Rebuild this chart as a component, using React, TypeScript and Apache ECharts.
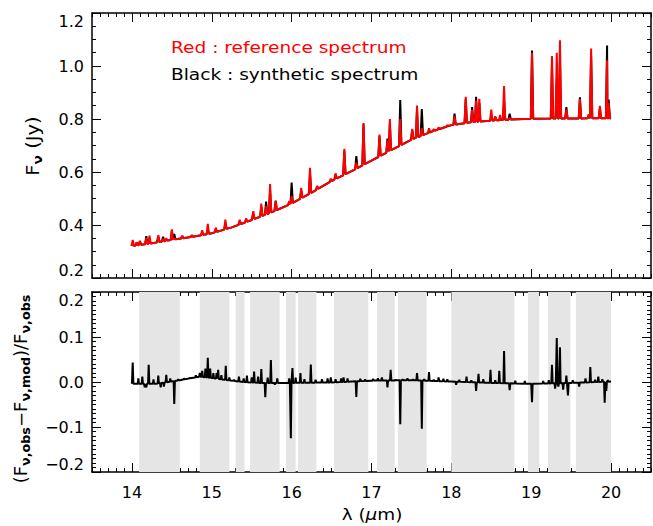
import React, { useEffect, useRef } from "react";
import * as echarts from "echarts";

// ---------- data ----------
const X_MIN = 13.5;
const X_MAX = 20.5;
const xMajorTicks = [14, 15, 16, 17, 18, 19, 20];

// continuum of the spectrum (Jy)
const contWl = [14.0, 14.25, 14.5, 14.75, 15.0, 15.25, 15.5, 15.75, 16.0, 16.25, 16.5, 16.75, 17.0, 17.25, 17.5, 17.75, 18.0, 18.25, 18.5, 18.75, 19.0, 19.5, 20.0];
const contFlux = [0.321, 0.331, 0.344, 0.355, 0.369, 0.391, 0.419, 0.448, 0.481, 0.522, 0.566, 0.603, 0.643, 0.683, 0.722, 0.752, 0.777, 0.788, 0.794, 0.798, 0.801, 0.802, 0.803];

// emission lines: wavelength, reference (red) peak, synthetic (black) peak
const lineWl = [14.01, 14.06, 14.10, 14.18, 14.22, 14.33, 14.39, 14.43, 14.50, 14.53, 14.63, 14.75, 14.88, 14.95, 15.05, 15.17, 15.35, 15.43, 15.52, 15.62, 15.68, 15.73, 15.80, 15.97, 16.00, 16.12, 16.23, 16.32, 16.49, 16.55, 16.66, 16.81, 16.90, 17.10, 17.20, 17.23, 17.36, 17.51, 17.57, 17.63, 17.72, 17.78, 17.84, 17.95, 18.04, 18.18, 18.26, 18.31, 18.35, 18.50, 18.55, 18.61, 18.66, 18.73, 19.01, 19.26, 19.32, 19.36, 19.44, 19.61, 19.72, 19.75, 19.86, 19.95, 19.97];
const redPeak = [0.344, 0.335, 0.340, 0.350, 0.360, 0.362, 0.348, 0.350, 0.384, 0.350, 0.360, 0.362, 0.380, 0.404, 0.390, 0.420, 0.420, 0.425, 0.452, 0.481, 0.470, 0.555, 0.490, 0.490, 0.510, 0.540, 0.616, 0.548, 0.575, 0.595, 0.688, 0.635, 0.785, 0.741, 0.718, 0.800, 0.800, 0.763, 0.851, 0.765, 0.765, 0.762, 0.768, 0.777, 0.810, 0.884, 0.835, 0.870, 0.876, 0.835, 0.810, 0.815, 0.924, 0.805, 1.050, 1.038, 1.050, 1.097, 0.835, 0.875, 0.818, 1.066, 0.850, 1.022, 0.860];
const blackPeak = [0.331, 0.333, 0.338, 0.358, 0.348, 0.357, 0.356, 0.345, 0.378, 0.366, 0.358, 0.360, 0.372, 0.383, 0.383, 0.406, 0.415, 0.419, 0.442, 0.468, 0.488, 0.530, 0.492, 0.487, 0.560, 0.530, 0.595, 0.545, 0.570, 0.590, 0.680, 0.660, 0.780, 0.735, 0.726, 0.780, 0.872, 0.758, 0.835, 0.838, 0.750, 0.758, 0.762, 0.772, 0.820, 0.874, 0.845, 0.884, 0.860, 0.812, 0.806, 0.800, 0.865, 0.820, 1.058, 1.000, 0.950, 1.020, 0.845, 0.882, 0.812, 1.040, 0.840, 1.077, 0.873];

// residual baseline and spikes
const resWl = [14.0, 14.3, 14.6, 14.85, 15.0, 15.2, 15.4, 15.6, 16.0, 16.5, 17.0, 17.5, 18.0, 18.5, 19.0, 19.5, 20.0];
const resBase = [-0.004, -0.004, 0.004, 0.012, 0.009, 0.004, 0.0, -0.002, -0.002, -0.001, 0.003, 0.004, 0.001, -0.002, -0.004, -0.002, 0.001];
const spikeWl = [14.01, 14.08, 14.13, 14.16, 14.18, 14.21, 14.27, 14.33, 14.36, 14.40, 14.43, 14.48, 14.53, 14.58, 14.65, 14.72, 14.80, 14.85, 14.88, 14.92, 14.95, 14.98, 15.02, 15.06, 15.08, 15.12, 15.175, 15.22, 15.28, 15.34, 15.40, 15.44, 15.50, 15.53, 15.58, 15.62, 15.67, 15.70, 15.74, 15.79, 15.82, 15.97, 15.99, 16.01, 16.05, 16.11, 16.16, 16.24, 16.30, 16.38, 16.45, 16.49, 16.55, 16.62, 16.65, 16.70, 16.81, 16.86, 16.92, 17.02, 17.08, 17.13, 17.20, 17.24, 17.30, 17.36, 17.39, 17.45, 17.52, 17.57, 17.63, 17.66, 17.72, 17.78, 17.84, 17.90, 17.95, 18.06, 18.10, 18.19, 18.25, 18.31, 18.34, 18.40, 18.49, 18.55, 18.60, 18.66, 18.73, 18.80, 18.92, 19.01, 19.15, 19.22, 19.26, 19.30, 19.32, 19.34, 19.36, 19.40, 19.44, 19.46, 19.52, 19.60, 19.68, 19.74, 19.80, 19.84, 19.89, 19.92, 19.94, 19.96];
const spikeVal = [0.043, 0.008, 0.012, -0.012, -0.012, 0.038, 0.006, 0.014, -0.012, -0.010, 0.016, 0.008, -0.049, 0.006, 0.008, 0.009, 0.015, 0.020, 0.025, 0.030, 0.054, 0.030, 0.020, 0.020, 0.027, 0.015, 0.036, 0.010, 0.005, 0.012, 0.008, 0.014, 0.010, 0.023, 0.012, 0.029, -0.034, 0.010, 0.049, -0.006, 0.008, 0.008, -0.125, 0.031, 0.010, 0.020, 0.006, 0.039, 0.005, 0.006, 0.008, 0.010, 0.006, 0.008, 0.010, 0.008, -0.033, 0.007, 0.006, 0.007, 0.008, 0.010, -0.012, 0.027, 0.005, -0.094, 0.006, 0.008, 0.006, 0.020, -0.104, 0.006, 0.022, 0.005, 0.010, 0.007, 0.006, -0.006, 0.005, 0.012, 0.004, -0.020, 0.018, 0.006, 0.027, 0.004, 0.025, 0.069, -0.018, 0.003, 0.002, -0.045, 0.002, 0.004, 0.038, -0.015, 0.098, -0.010, 0.077, -0.017, 0.014, -0.030, 0.004, -0.010, 0.008, 0.033, 0.005, 0.012, 0.006, -0.046, -0.020, 0.004];

// shaded wavelength windows in the residual panel
const bandStart = [14.09, 14.85, 15.30, 15.48, 15.93, 16.08, 16.53, 17.07, 17.33, 18.0, 18.96, 19.21, 19.56];
const bandEnd = [14.60, 15.22, 15.41, 15.85, 16.05, 16.31, 16.96, 17.29, 17.69, 18.79, 19.10, 19.49, 20.0];

// ---------- helpers ----------
function baseAt(xs: number[], ys: number[], x: number): number {
  if (x <= xs[0]) return ys[0];
  for (let i = 1; i < xs.length; i++) {
    if (x <= xs[i]) {
      const t = (x - xs[i - 1]) / (xs[i] - xs[i - 1]);
      return ys[i - 1] + t * (ys[i] - ys[i - 1]);
    }
  }
  return ys[ys.length - 1];
}

function buildSpectrum(xs: number[], ys: number[], px: number[], pv: number[], hw: number): number[][] {
  const pts: number[][] = [];
  xs.forEach((x, i) => {
    const inside = px.some((p) => Math.abs(p - x) <= hw);
    if (!inside) pts.push([x, ys[i]]);
  });
  px.forEach((p, i) => {
    const b1 = baseAt(xs, ys, p - hw);
    const b2 = baseAt(xs, ys, p + hw);
    pts.push([p - hw, b1]);
    pts.push([p, pv[i]]);
    pts.push([p + hw, b2]);
  });
  pts.sort((a, b) => a[0] - b[0]);
  return pts;
}

const FONT = "DejaVu Sans";
const AX = { color: "#000", width: 1.5 };
const TK = { color: "#000", width: 1 };

function xAxesFor(gridIndex: number, withLabels: boolean): any[] {
  const base = {
    type: "value",
    gridIndex,
    min: X_MIN,
    max: X_MAX,
    splitLine: { show: false },
  };
  const minorAxis = (position: string) => ({
    ...base,
    position,
    interval: 0.1,
    axisLine: { show: true, onZero: false, lineStyle: AX },
    axisTick: { show: true, inside: true, length: 4, lineStyle: TK },
    axisLabel: { show: false },
  });
  const majorAxis = (position: string, labels: boolean) => ({
    ...base,
    position,
    axisLine: { show: false, onZero: false },
    axisTick: { show: true, inside: true, length: 9, customValues: xMajorTicks, lineStyle: TK },
    axisLabel: labels
      ? { show: true, customValues: xMajorTicks, margin: 12, color: "#000", fontSize: 16, fontFamily: FONT }
      : { show: false },
  });
  return [minorAxis("bottom"), majorAxis("bottom", withLabels), minorAxis("top"), majorAxis("top", false)];
}

function yAxisFor(gridIndex: number, position: string, min: number, max: number, interval: number, minorSplit: number, labels: boolean): any {
  return {
    type: "value",
    gridIndex,
    position,
    min,
    max,
    interval,
    splitLine: { show: false },
    axisLine: { show: true, onZero: false, lineStyle: AX },
    axisTick: { show: true, inside: true, length: 9, lineStyle: TK },
    minorTick: { show: true, splitNumber: minorSplit, length: 4, lineStyle: TK },
    axisLabel: labels
      ? {
          show: true,
          margin: 8,
          color: "#000",
          fontSize: 16,
          fontFamily: FONT,
          verticalAlignMinLabel: "bottom",
          verticalAlignMaxLabel: "top",
          formatter: (v: number) => (Math.abs(v) < 1e-9 ? "0.0" : v.toFixed(1).replace("-", "\u2212")),
        }
      : { show: false },
  };
}

export default function App() {
  const ref = useRef<HTMLDivElement>(null);

  useEffect(() => {
    if (!ref.current) return;
    const chart = echarts.init(ref.current, undefined, { renderer: "svg" });

    const blackData = buildSpectrum(contWl, contFlux, lineWl, blackPeak, 0.015);
    const redData = buildSpectrum(contWl, contFlux, lineWl, redPeak, 0.015);
    const resData = buildSpectrum(resWl, resBase, spikeWl, spikeVal, 0.008);
    const bands = bandStart.map((s, i) => [{ xAxis: s }, { xAxis: bandEnd[i] }]);

    const mainStyle = { fontSize: 17, fontFamily: FONT, fill: "#000", lineHeight: 22, verticalAlign: "middle" };
    const subStyle = { fontSize: 12, fontFamily: FONT, fontWeight: "bold", fill: "#000", lineHeight: 12, verticalAlign: "bottom" };

    chart.setOption({
      animation: false,
      backgroundColor: "#fff",
      grid: [
        { left: 92, right: 2, top: 13, height: 265 },
        { left: 92, right: 2, top: 292, height: 180 },
      ],
      xAxis: [...xAxesFor(0, false), ...xAxesFor(1, true)],
      yAxis: [
        yAxisFor(0, "left", 0.2, 1.2, 0.2, 4, true),
        yAxisFor(0, "right", 0.2, 1.2, 0.2, 4, false),
        yAxisFor(1, "left", -0.2, 0.2, 0.1, 10, true),
        yAxisFor(1, "right", -0.2, 0.2, 0.1, 10, false),
      ],
      series: [
        {
          type: "line",
          xAxisIndex: 0,
          yAxisIndex: 0,
          data: blackData,
          showSymbol: false,
          clip: true,
          lineStyle: { color: "#000", width: 2 },
          z: 2,
        },
        {
          type: "line",
          xAxisIndex: 0,
          yAxisIndex: 0,
          data: redData,
          showSymbol: false,
          clip: true,
          lineStyle: { color: "#ff0000", width: 2 },
          z: 3,
        },
        {
          type: "line",
          xAxisIndex: 4,
          yAxisIndex: 2,
          data: resData,
          showSymbol: false,
          clip: true,
          lineStyle: { color: "#000", width: 2 },
          z: 3,
          markArea: {
            silent: true,
            itemStyle: { color: "#e5e5e5" },
            data: bands,
          },
        },
      ],
      graphic: [
        {
          type: "text",
          x: 171,
          y: 47,
          scaleX: 1.16,
          style: { text: "Red : reference spectrum", fill: "#ff0000", fontSize: 16, fontFamily: FONT, align: "left", verticalAlign: "middle" },
        },
        {
          type: "text",
          x: 171,
          y: 74,
          scaleX: 1.16,
          style: { text: "Black : synthetic spectrum", fill: "#000", fontSize: 16, fontFamily: FONT, align: "left", verticalAlign: "middle" },
        },
        {
          type: "text",
          x: 33,
          y: 146,
          rotation: Math.PI / 2,
          scaleX: 1.15,
          style: {
            text: "{m|F}{s|\u03bd}{m| (Jy)}",
            align: "center",
            verticalAlign: "middle",
            fill: "#000",
            rich: { m: mainStyle, s: subStyle },
          },
        },
        {
          type: "text",
          x: 21,
          y: 389,
          rotation: Math.PI / 2,
          scaleX: 1.06,
          style: {
            text: "{m|(F}{s|\u03bd,obs}{m|\u2212F}{s|\u03bd,mod}{m|)/F}{s|\u03bd,obs}",
            align: "center",
            verticalAlign: "middle",
            fill: "#000",
            rich: { m: mainStyle, s: subStyle },
          },
        },
        {
          type: "text",
          x: 372,
          y: 514,
          scaleX: 1.15,
          style: {
            text: "{m|\u03bb (}{i|\u03bc}{m|m)}",
            align: "center",
            verticalAlign: "middle",
            fill: "#000",
            rich: {
              m: { fontSize: 16, fontFamily: FONT, fill: "#000" },
              i: { fontSize: 16, fontFamily: FONT, fontStyle: "italic", fill: "#000" },
            },
          },
        },
      ],
    });

    return () => chart.dispose();
  }, []);

  return <div ref={ref} style={{ position: "fixed", left: 0, top: 0, width: 653, height: 526 }} />;
}
